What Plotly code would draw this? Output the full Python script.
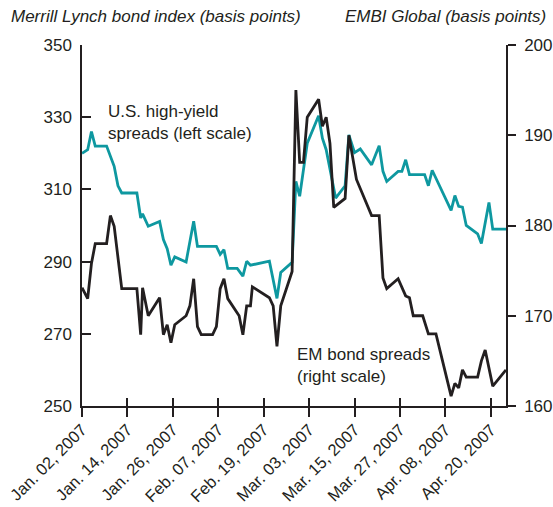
import plotly.graph_objects as go

# U.S. high-yield spreads (left scale, Merrill Lynch bond index, basis points)
hy_dates = [
    "2007-01-02 00:00", "2007-01-03 12:00", "2007-01-04 12:00", "2007-01-05 12:00",
    "2007-01-08 12:00", "2007-01-10 12:00", "2007-01-11 12:00", "2007-01-12 12:00",
    "2007-01-16 12:00", "2007-01-17 12:00", "2007-01-18 00:00", "2007-01-19 12:00",
    "2007-01-22 12:00", "2007-01-23 12:00", "2007-01-24 12:00", "2007-01-25 12:00",
    "2007-01-26 12:00", "2007-01-29 12:00", "2007-01-31 12:00", "2007-02-01 12:00",
    "2007-02-06 12:00", "2007-02-07 12:00", "2007-02-08 12:00", "2007-02-09 12:00",
    "2007-02-12 00:00", "2007-02-13 12:00", "2007-02-14 12:00", "2007-02-15 12:00",
    "2007-02-20 12:00", "2007-02-22 12:00", "2007-02-23 12:00", "2007-02-26 12:00",
    "2007-02-27 12:00", "2007-02-28 12:00", "2007-03-02 12:00", "2007-03-05 12:00",
    "2007-03-06 12:00", "2007-03-07 12:00", "2007-03-10 00:00", "2007-03-12 12:00",
    "2007-03-13 12:00", "2007-03-15 00:00", "2007-03-16 12:00", "2007-03-19 12:00",
    "2007-03-21 12:00", "2007-03-22 12:00", "2007-03-23 12:00", "2007-03-26 12:00",
    "2007-03-27 12:00", "2007-03-28 12:00", "2007-03-29 12:00", "2007-04-02 12:00",
    "2007-04-03 12:00", "2007-04-04 12:00", "2007-04-09 12:00", "2007-04-10 12:00",
    "2007-04-11 12:00", "2007-04-12 12:00", "2007-04-13 12:00", "2007-04-16 12:00",
    "2007-04-17 12:00", "2007-04-19 12:00", "2007-04-20 12:00", "2007-04-24 00:00",
]
hy_values = [
    320, 321, 326, 322,
    322, 316.4, 311, 309,
    309, 302.1, 303.2, 299.8,
    301.1, 296.1, 293.6, 289,
    291.3, 289.9, 301.2, 294.2,
    294.2, 292, 293.3, 288.1,
    288.1, 286, 290.1, 289,
    290.1, 279.8, 287, 289.8,
    312.2, 308.1, 322.8, 330.4,
    324.2, 321, 307.6, 311,
    325.1, 320.2, 321.2, 316.8,
    322.1, 315, 312.2, 315,
    315, 318.2, 314.1, 314.1,
    311, 315.3, 304.2, 308.3,
    305.3, 305.1, 300, 297.7,
    295, 306.4, 299, 299,
]

# EM bond spreads (right scale, EMBI Global, basis points)
em_dates = [
    "2007-01-02 00:00", "2007-01-03 12:00", "2007-01-04 12:00", "2007-01-05 12:00",
    "2007-01-08 12:00", "2007-01-09 12:00", "2007-01-10 12:00", "2007-01-12 12:00",
    "2007-01-16 12:00", "2007-01-17 12:00", "2007-01-18 00:00", "2007-01-19 12:00",
    "2007-01-22 12:00", "2007-01-23 12:00", "2007-01-24 12:00", "2007-01-25 12:00",
    "2007-01-26 12:00", "2007-01-29 12:00", "2007-01-30 12:00", "2007-01-31 12:00",
    "2007-02-01 12:00", "2007-02-02 12:00", "2007-02-05 12:00", "2007-02-06 12:00",
    "2007-02-07 12:00", "2007-02-08 12:00", "2007-02-09 12:00", "2007-02-12 12:00",
    "2007-02-13 12:00", "2007-02-14 12:00", "2007-02-15 12:00", "2007-02-16 00:00",
    "2007-02-20 12:00", "2007-02-21 12:00", "2007-02-22 12:00", "2007-02-23 12:00",
    "2007-02-26 12:00", "2007-02-27 12:00", "2007-02-28 12:00", "2007-03-01 12:00",
    "2007-03-02 12:00", "2007-03-05 12:00", "2007-03-06 12:00", "2007-03-07 12:00",
    "2007-03-08 12:00", "2007-03-09 12:00", "2007-03-12 12:00", "2007-03-13 12:00",
    "2007-03-15 12:00", "2007-03-19 12:00", "2007-03-21 12:00", "2007-03-22 12:00",
    "2007-03-23 12:00", "2007-03-26 12:00", "2007-03-28 12:00", "2007-03-29 12:00",
    "2007-03-30 12:00", "2007-04-02 00:00", "2007-04-03 12:00", "2007-04-05 12:00",
    "2007-04-09 12:00", "2007-04-10 12:00", "2007-04-11 12:00", "2007-04-12 12:00",
    "2007-04-13 12:00", "2007-04-16 12:00", "2007-04-17 12:00", "2007-04-18 12:00",
    "2007-04-20 12:00", "2007-04-24 00:00",
]
em_values = [
    173.1, 171.9, 175.8, 178,
    178, 181.1, 179.9, 173,
    173, 167.9, 173.1, 170,
    172, 167.9, 169, 167,
    169, 170, 171.1, 174.1,
    168.8, 167.9, 167.9, 168.8,
    173, 174.1, 171.9, 170,
    167.9, 171.1, 171.1, 173.2,
    172, 171.1, 166.6, 171.1,
    174.9, 195, 187, 187,
    192, 194, 191, 192,
    189.1, 182, 183, 190,
    185.1, 181.1, 181.1, 174.2,
    173, 174.1, 172.2, 172,
    170, 170, 168, 168,
    161.1, 162.5, 162, 164,
    163.2, 163.2, 165, 166.2,
    162.2, 164,
]

tick_dates = ["2007-01-02", "2007-01-14", "2007-01-26", "2007-02-07", "2007-02-19",
              "2007-03-03", "2007-03-15", "2007-03-27", "2007-04-08", "2007-04-20"]
tick_labels = ["Jan. 02, 2007", "Jan. 14, 2007", "Jan. 26, 2007", "Feb. 07, 2007",
               "Feb. 19, 2007", "Mar. 03, 2007", "Mar. 15, 2007", "Mar. 27, 2007",
               "Apr. 08, 2007", "Apr. 20, 2007"]
x_range = ["2007-01-02", "2007-04-24"]
left_ticks = [250, 270, 290, 310, 330, 350]
right_ticks = [160, 170, 180, 190, 200]

INK = "#231f20"
TEAL = "#0e98a0"
FONT = "Liberation Sans, Arial, sans-serif"

fig = go.Figure()
fig.add_trace(go.Scatter(x=hy_dates, y=hy_values, mode="lines",
                         line=dict(color=TEAL, width=2.8), xaxis="x", yaxis="y",
                         showlegend=False, hoverinfo="skip"))
fig.add_trace(go.Scatter(x=em_dates, y=em_values, mode="lines",
                         line=dict(color=INK, width=2.8), xaxis="x", yaxis="y2",
                         showlegend=False, hoverinfo="skip"))
# empty trace so the overlay x axis (inner half of crossing ticks) is drawn
fig.add_trace(go.Scatter(x=[], y=[], xaxis="x2", yaxis="y", showlegend=False))

fig.update_layout(
    width=553, height=507,
    margin=dict(l=82, r=47, t=45, b=101),
    paper_bgcolor="white", plot_bgcolor="white",
    font=dict(family=FONT, size=17, color=INK),
    xaxis=dict(
        type="date", range=x_range, tickmode="array",
        tickvals=tick_dates, ticktext=tick_labels, tickangle=-45,
        ticks="outside", ticklen=9, tickwidth=1.5, tickcolor=INK,
        showline=True, linecolor=INK, linewidth=1.5,
        showgrid=False, zeroline=False, automargin=False,
        ticklabelstandoff=-3,
        tickfont=dict(size=16.5, color=INK),
    ),
    xaxis2=dict(
        type="date", range=x_range, overlaying="x", tickmode="array",
        tickvals=tick_dates, ticktext=["" for _ in tick_labels],
        ticks="inside", ticklen=8, tickwidth=1.5, tickcolor=INK,
        showline=False, showgrid=False, zeroline=False, showticklabels=False,
        automargin=False,
    ),
    yaxis=dict(
        range=[250, 350], tickmode="array", tickvals=left_ticks,
        ticks="inside", ticklen=9, tickwidth=1.5, tickcolor=INK,
        showline=True, linecolor=INK, linewidth=1.5,
        showgrid=False, zeroline=False, automargin=False,
        ticklabelstandoff=5,
        tickfont=dict(size=17, color=INK),
    ),
    yaxis2=dict(
        range=[160, 200], tickmode="array", tickvals=right_ticks,
        overlaying="y", side="right",
        ticks="outside", ticklen=8, tickwidth=1.5, tickcolor=INK,
        showline=True, linecolor=INK, linewidth=1.5,
        showgrid=False, zeroline=False, automargin=False,
        ticklabelstandoff=5,
        tickfont=dict(size=17, color=INK),
    ),
    annotations=[
        dict(text="<i>Merrill Lynch bond index (basis points)</i>",
             xref="paper", yref="paper", x=-0.172, y=1.08,
             xanchor="left", yanchor="middle", showarrow=False,
             font=dict(size=17, color=INK)),
        dict(text="<i>EMBI Global (basis points)</i>",
             xref="paper", yref="paper", x=1.1, y=1.08,
             xanchor="right", yanchor="middle", showarrow=False,
             font=dict(size=17, color=INK)),
        dict(text="U.S. high-yield<br>spreads (left scale)",
             xref="paper", yref="paper", x=0.057, y=0.784,
             xanchor="left", yanchor="middle", align="left", showarrow=False,
             font=dict(size=17, color=INK)),
        dict(text="EM bond spreads<br>(right scale)",
             xref="paper", yref="paper", x=0.503, y=0.112,
             xanchor="left", yanchor="middle", align="left", showarrow=False,
             font=dict(size=17, color=INK)),
    ],
)

fig.write_html(
    "out.html",
    config={"displayModeBar": False},
    post_script="document.body.style.margin='0';document.body.style.padding='0';"
                "document.documentElement.style.overflow='hidden';",
)
